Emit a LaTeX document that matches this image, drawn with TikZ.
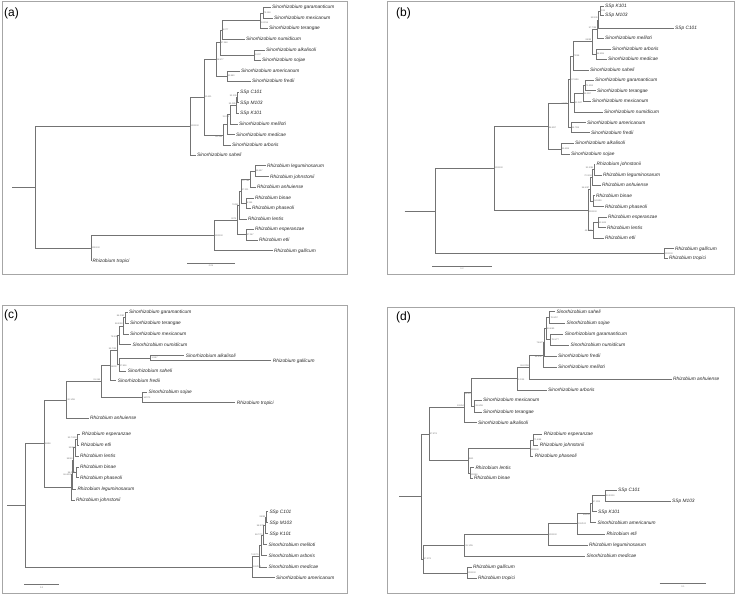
\documentclass[tikz,border=0pt]{standalone}
\usepackage{fontspec}
\setmainfont{Liberation Sans}
\usetikzlibrary{calc}

\begin{document}
\begin{tikzpicture}[x=1pt,y=-1pt,
    sp/.style={anchor=west,inner sep=1.5pt,text height=3.5pt,text depth=0.9pt,
      font=\fontsize{4.8}{5}\selectfont\itshape,text=black!85},
    sup/.style={inner sep=0.6pt,font=\fontsize{2.2}{2.4}\selectfont,text=black!55},
    tree/.style={every edge/.style={draw=black!55,line width=0.45pt,to path={|- (\tikztotarget)}}},
    frame/.style={draw=black!35,line width=0.7pt},
    tag/.style={anchor=west,inner sep=0pt,font=\fontsize{12}{12}\selectfont}]

\fill[white] (0,0) rectangle (735,594);
\useasboundingbox (0,0) rectangle (735,594);

% (a)
\draw[frame] (2,1) rectangle (347,274);
\node[tag] (atag) at (4,13) {(a)};

\node[sp] (agar) at (270.5,7.5) {Sinorhizobium garamanticum};
\node[sp] (amex) at (272.5,18) {Sinorhizobium mexicanum};
\node[sp] (ater) at (267.5,28.7) {Sinorhizobium terangae};
\node[sp] (anum) at (244.5,39.2) {Sinorhizobium numidicum};
\node[sp] (aalk) at (264.5,49.8) {Sinorhizobium alkalisoli};
\node[sp] (asoj) at (260.5,60.3) {Sinorhizobium sojae};
\node[sp] (aame) at (239.5,70.8) {Sinorhizobium americanum};
\node[sp] (afre) at (250.5,81.3) {Sinorhizobium fredii};
\node[sp] (ac101) at (238.5,92) {SSp C101};
\node[sp] (am103) at (238.5,102.7) {SSp M103};
\node[sp] (ak101) at (238.5,113.3) {SSp K101};
\node[sp] (amel) at (237.5,124) {Sinorhizobium meliloti};
\node[sp] (amed) at (234.5,134.7) {Sinorhizobium medicae};
\node[sp] (aarb) at (230.5,145.3) {Sinorhizobium arboris};
\node[sp] (asah) at (195.5,155.3) {Sinorhizobium saheli};
\node[sp] (aleg) at (265.5,165.7) {Rhizobium leguminosarum};
\node[sp] (ajoh) at (268.5,176.7) {Rhizobium johnstonii};
\node[sp] (aanh) at (255.5,187.3) {Rhizobium anhuiense};
\node[sp] (abin) at (253.5,198) {Rhizobium binae};
\node[sp] (apha) at (250.5,208.3) {Rhizobium phaseoli};
\node[sp] (alen) at (246.5,219) {Rhizobium lentis};
\node[sp] (aesp) at (253.5,229.3) {Rhizobium esperanzae};
\node[sp] (aetl) at (257.5,240) {Rhizobium etli};
\node[sp] (agal) at (272.5,250.7) {Rhizobium gallicum};
\node[sp] (atro) at (91,261) {Rhizobium tropici};

\coordinate[label={[sup]right:75.198}] (aGM) at (263,12.8);
\coordinate[label={[sup]below right:1.00/16}] (aGMT) at (260,20.7);
\coordinate[label={[sup]right:8.077}] (aD) at (222,30);
\coordinate[label={[sup]right:1.0/47}] (aAS) at (254,55);
\coordinate[label={[sup]right:97.348}] (aC) at (220,42.5);
\coordinate[label={[sup]right:92.880}] (aAF) at (227,76);
\coordinate[label={[sup]right:18.577}] (aA) at (216,59.3);
\coordinate[label={[sup]above left:92.109}] (aCM) at (237.5,97.3);
\coordinate[label={[sup]above left:95.085}] (aCMK) at (236.5,105.3);
\coordinate[label={[sup]below left:11.033}] (aCMKm) at (230,114.7);
\coordinate (aB1) at (227,124.7);
\coordinate[label={[sup]below left:99.335}] (aB) at (223,135);
\coordinate[label={[sup]right:10.431}] (aX) at (204,97.2);
\coordinate[label={[sup]right:100/100}] (aSino) at (190,126.2);
\coordinate[label={[sup]right:99.697}] (aLJ) at (255,171.2);
\coordinate[label={[sup]below left:97.784}] (aLJA) at (250,179.3);
\coordinate[label={[sup]right:8.195}] (aBP) at (246,203.2);
\coordinate[label={[sup]above right:37.201}] (aR3) at (241,191.3);
\coordinate[label={[sup]left:72453}] (aR2) at (239,205.2);
\coordinate[label={[sup]right:97.267}] (aEE) at (246,234.7);
\coordinate[label={[sup]above left:9079}] (aR1) at (237,220);
\coordinate[label={[sup]right:100/100}] (aR) at (214,235.4);
\coordinate[label={[sup]right:100/100}] (aRt) at (91,248.2);
\coordinate (aroot) at (35.5,187.2);
\coordinate (astem) at (12,187.2);

\path[tree]
  (aGM) edge (agar) edge (amex)
  (aGMT) edge (aGM) edge (ater)
  (aD) edge (aGMT) edge (anum)
  (aAS) edge (aalk) edge (asoj)
  (aC) edge (aD) edge (aAS)
  (aAF) edge (aame) edge (afre)
  (aA) edge (aC) edge (aAF)
  (aCM) edge (ac101) edge (am103)
  (aCMK) edge (aCM) edge (ak101)
  (aCMKm) edge (aCMK) edge (amel)
  (aB1) edge (aCMKm) edge (amed)
  (aB) edge (aB1) edge (aarb)
  (aX) edge (aA) edge (aB)
  (aSino) edge (aX) edge (asah)
  (aLJ) edge (aleg) edge (ajoh)
  (aLJA) edge (aLJ) edge (aanh)
  (aBP) edge (abin) edge (apha)
  (aR3) edge (aLJA) edge (aBP)
  (aR2) edge (aR3) edge (alen)
  (aEE) edge (aesp) edge (aetl)
  (aR1) edge (aR2) edge (aEE)
  (aR) edge (aR1) edge (agal)
  (aRt) edge (aR) edge (atro)
  (aroot) edge (aSino) edge (aRt)
  (astem) edge (aroot);

\coordinate (asb1) at (187,263);
\coordinate (asb2) at (235,263);
\path[tree] (asb1) edge (asb2);
\node[sup,below=1.5pt] (asbl) at ($(asb1)!0.5!(asb2)$) {0.05};

% (b)
\draw[frame] (387,1) rectangle (734,274);
\node[tag] (btag) at (396,13) {(b)};

\node[sp] (bk101) at (603.5,6.7) {SSp K101};
\node[sp] (bm103) at (603.5,15.7) {SSp M103};
\node[sp] (bc101) at (673.5,28.3) {SSp C101};
\node[sp] (bmel) at (603.5,38.3) {Sinorhizobium meliloti};
\node[sp] (barb) at (610.5,49) {Sinorhizobium arboris};
\node[sp] (bmed) at (606.5,59.3) {Sinorhizobium medicae};
\node[sp] (bsah) at (588.5,70.3) {Sinorhizobium saheli};
\node[sp] (bgar) at (593.5,80.3) {Sinorhizobium garamanticum};
\node[sp] (bter) at (595.5,90.7) {Sinorhizobium terangae};
\node[sp] (bmex) at (590.5,101) {Sinorhizobium mexicanum};
\node[sp] (bnum) at (602.5,112) {Sinorhizobium numidicum};
\node[sp] (bame) at (585.5,122.7) {Sinorhizobium americanum};
\node[sp] (bfre) at (589.5,132.7) {Sinorhizobium fredii};
\node[sp] (balk) at (573.5,143.3) {Sinorhizobium alkalisoli};
\node[sp] (bsoj) at (569.5,154.3) {Sinorhizobium sojae};
\node[sp] (bjoh) at (595,164.3) {Rhizobium johnstonii};
\node[sp] (bleg) at (601.5,175) {Rhizobium leguminosarum};
\node[sp] (banh) at (600.5,185.3) {Rhizobium anhuiense};
\node[sp] (bbin) at (594.5,195.7) {Rhizobium binae};
\node[sp] (bpha) at (603.5,206.7) {Rhizobium phaseoli};
\node[sp] (besp) at (606.5,217.3) {Rhizobium esperanzae};
\node[sp] (blen) at (605.5,227.7) {Rhizobium lentis};
\node[sp] (betl) at (603.5,238) {Rhizobium etli};
\node[sp] (bgal) at (673.5,248.7) {Rhizobium gallicum};
\node[sp] (btro) at (667.5,258.3) {Rhizobium tropici};

\coordinate[label={[sup]right:0.95}] (bKM) at (600,11.2);
\coordinate[label={[sup]above left:92/100}] (bKMC) at (598.5,19.8);
\coordinate[label={[sup]above left:97.7/98}] (bSM) at (597,29);
\coordinate[label={[sup]right:94.9/95}] (bAM) at (596,54.2);
\coordinate[label={[sup]above left:99/99}] (bS4) at (592,41.6);
\coordinate[label={[sup]right:72/98}] (bS3) at (573,56);
\coordinate[label={[sup]right:71.4/93}] (bGT) at (585,85.5);
\coordinate[label={[sup]right:95.2/97}] (bGTM) at (583,93.3);
\coordinate[label={[sup]right:41.2/47}] (bS5) at (574,102.6);
\coordinate[label={[sup]right:97.9/99}] (bS2) at (570.5,79.3);
\coordinate[label={[sup]right:96.7/99}] (bAF) at (571,127.7);
\coordinate[label={[sup]left:14/97}] (bS1) at (568,103.5);
\coordinate[label={[sup]right:95.6/99}] (bAS) at (561,148.8);
\coordinate[label={[sup]below right:96.9/97}] (bSino) at (548,126.2);
\coordinate[label={[sup]above left:91.3/95}] (bJL) at (594,169.7);
\coordinate[label={[sup]above left:70.3/94}] (bJLA) at (592.5,177.5);
\coordinate[label={[sup]right:94.9/99}] (bBP) at (593.5,201.2);
\coordinate[label={[sup]above left:94.5/97}] (bR1) at (590,189.4);
\coordinate[label={[sup]right:51.5/44}] (bEL) at (598,222.5);
\coordinate[label={[sup]left:44.2/55}] (bELE) at (593,230.3);
\coordinate[label={[sup]below right:100/100}] (bR) at (588,209.9);
\coordinate[label={[sup]right:100/100}] (bSR) at (494,168);
\coordinate[label={[sup]right:100/100}] (bGTr) at (664,253.5);
\coordinate (broot) at (435.7,210.8);
\coordinate (bstem) at (404.7,210.8);

\path[tree]
  (bKM) edge (bk101) edge (bm103)
  (bKMC) edge (bKM) edge (bc101)
  (bSM) edge (bKMC) edge (bmel)
  (bAM) edge (barb) edge (bmed)
  (bS4) edge (bSM) edge (bAM)
  (bS3) edge (bS4) edge (bsah)
  (bGT) edge (bgar) edge (bter)
  (bGTM) edge (bGT) edge (bmex)
  (bS5) edge (bGTM) edge (bnum)
  (bS2) edge (bS3) edge (bS5)
  (bAF) edge (bame) edge (bfre)
  (bS1) edge (bS2) edge (bAF)
  (bAS) edge (balk) edge (bsoj)
  (bSino) edge (bS1) edge (bAS)
  (bJL) edge (bjoh) edge (bleg)
  (bJLA) edge (bJL) edge (banh)
  (bBP) edge (bbin) edge (bpha)
  (bR1) edge (bJLA) edge (bBP)
  (bEL) edge (besp) edge (blen)
  (bELE) edge (bEL) edge (betl)
  (bR) edge (bR1) edge (bELE)
  (bSR) edge (bSino) edge (bR)
  (bGTr) edge (bgal) edge (btro)
  (broot) edge (bSR) edge (bGTr)
  (bstem) edge (broot);

\coordinate (bsb1) at (432,266);
\coordinate (bsb2) at (492,266);
\path[tree] (bsb1) edge (bsb2);
\node[sup,below=1.5pt] (bsbl) at ($(bsb1)!0.5!(bsb2)$) {0.2};

% (c)
\draw[frame] (2,305) rectangle (347,593);
\node[tag] (ctag) at (4,315) {(c)};

\node[sp] (cgar) at (127.5,312.3) {Sinorhizobium garamanticum};
\node[sp] (cter) at (128.5,323) {Sinorhizobium terangae};
\node[sp] (cmex) at (128.5,334) {Sinorhizobium mexicanum};
\node[sp] (cnum) at (130.8,344.7) {Sinorhizobium numidicum};
\node[sp] (calk) at (184.2,355.7) {Sinorhizobium alkalisoli};
\node[sp] (cgal) at (271.2,360.7) {Rhizobium gallicum};
\node[sp] (csah) at (126.2,371) {Sinorhizobium saheli};
\node[sp] (cfre) at (116.2,380.7) {Sinorhizobium fredii};
\node[sp] (csoj) at (146.8,392.3) {Sinorhizobium sojae};
\node[sp] (ctro) at (235.2,402.7) {Rhizobium tropici};
\node[sp] (canh) at (88.5,418.3) {Rhizobium anhuiense};
\node[sp] (cesp) at (80.2,434) {Rhizobium esperanzae};
\node[sp] (cetl) at (79.2,444.8) {Rhizobium etli};
\node[sp] (clen) at (78.5,456) {Rhizobium lentis};
\node[sp] (cbin) at (78.5,467) {Rhizobium binae};
\node[sp] (cpha) at (78.5,477.7) {Rhizobium phaseoli};
\node[sp] (cleg) at (75.8,489.3) {Rhizobium leguminosarum};
\node[sp] (cjoh) at (74.5,500.3) {Rhizobium johnstonii};
\node[sp] (cc101) at (267.8,511.7) {SSp C101};
\node[sp] (cm103) at (267.8,522.7) {SSp M103};
\node[sp] (ck101) at (267.8,533.7) {SSp K101};
\node[sp] (cmel) at (266.8,544.7) {Sinorhizobium meliloti};
\node[sp] (carb) at (266.8,555.7) {Sinorhizobium arboris};
\node[sp] (cmed) at (266.8,567) {Sinorhizobium medicae};
\node[sp] (came) at (274.5,577.7) {Sinorhizobium americanum};

\coordinate[label={[sup]above left:84.2/90}] (cGT) at (125,317.7);
\coordinate[label={[sup]above left:98.5/98}] (cGTM) at (123.3,325.8);
\coordinate[label={[sup]below left:79.5/89}] (cGTMN) at (119,335.3);
\coordinate[label={[sup]right:1.0/47}] (cAG) at (150.7,358.2);
\coordinate[label={[sup]below right:27.836}] (cT2) at (119,364.6);
\coordinate[label={[sup]above left:95.7/99}] (cT1111) at (117,350);
\coordinate[label={[sup]below right:18/027}] (cT111) at (110,365.3);
\coordinate[label={[sup]right:14/073}] (cST) at (142.7,397.5);
\coordinate[label={[sup]above left:31.244}] (cT11) at (101,381.4);
\coordinate[label={[sup]right:92.1/98}] (cT1) at (66.7,399.9);
\coordinate[label={[sup]above left:93.7/100}] (cEE) at (77.3,439.4);
\coordinate[label={[sup]left:99/99}] (cR3) at (75.3,447.7);
\coordinate[label={[sup]left:94.2/97}] (cBP) at (76,472.3);
\coordinate[label={[sup]above left:99/99}] (cR2) at (73.3,460);
\coordinate[label={[sup]left:96.4/100}] (cR1) at (72.7,474.7);
\coordinate (cR) at (71.7,487.5);
\coordinate[label={[sup]right:98/98}] (cT) at (44.3,443.7);
\coordinate[label={[sup]left:99/99}] (cCM) at (266,517.2);
\coordinate[label={[sup]left:98.9/79}] (cCMK) at (265,525.5);
\coordinate[label={[sup]left:98.7/75}] (cS111) at (263.3,535.1);
\coordinate (cS11) at (261.7,545.4);
\coordinate[label={[sup]above left:74.3/75}] (cS1) at (259.3,556.2);
\coordinate[label={[sup]right:100/100}] (cS) at (252.3,567);
\coordinate (croot) at (25,505.4);
\coordinate (cstem) at (7.3,505.4);

\path[tree]
  (cGT) edge (cgar) edge (cter)
  (cGTM) edge (cGT) edge (cmex)
  (cGTMN) edge (cGTM) edge (cnum)
  (cAG) edge (calk) edge (cgal)
  (cT2) edge (cAG) edge (csah)
  (cT1111) edge (cGTMN) edge (cT2)
  (cT111) edge (cT1111) edge (cfre)
  (cST) edge (csoj) edge (ctro)
  (cT11) edge (cT111) edge (cST)
  (cT1) edge (cT11) edge (canh)
  (cEE) edge (cesp) edge (cetl)
  (cR3) edge (cEE) edge (clen)
  (cBP) edge (cbin) edge (cpha)
  (cR2) edge (cR3) edge (cBP)
  (cR1) edge (cR2) edge (cleg)
  (cR) edge (cR1) edge (cjoh)
  (cT) edge (cT1) edge (cR)
  (cCM) edge (cc101) edge (cm103)
  (cCMK) edge (cCM) edge (ck101)
  (cS111) edge (cCMK) edge (cmel)
  (cS11) edge (cS111) edge (carb)
  (cS1) edge (cS11) edge (cmed)
  (cS) edge (cS1) edge (came)
  (croot) edge (cT) edge (cS)
  (cstem) edge (croot);

\coordinate (csb1) at (24,584.3);
\coordinate (csb2) at (59.3,584.3);
\path[tree] (csb1) edge (csb2);
\node[sup,below=1.5pt] (csbl) at ($(csb1)!0.5!(csb2)$) {0.2};

% (d)
\draw[frame] (387,307) rectangle (734,593);
\node[tag] (dtag) at (396,317) {(d)};

\node[sp] (dsah) at (554.8,311.7) {Sinorhizobium saheli};
\node[sp] (dsoj) at (564.8,323.3) {Sinorhizobium sojae};
\node[sp] (dgar) at (563.2,334.3) {Sinorhizobium garamanticum};
\node[sp] (dnum) at (568.8,345) {Sinorhizobium numidicum};
\node[sp] (dfre) at (556.5,356) {Sinorhizobium fredii};
\node[sp] (dmel) at (556.5,367.3) {Sinorhizobium meliloti};
\node[sp] (danh) at (671.5,379.3) {Rhizobium anhuiense};
\node[sp] (darb) at (546.5,390) {Sinorhizobium arboris};
\node[sp] (dmex) at (481.5,400) {Sinorhizobium mexicanum};
\node[sp] (dter) at (481.5,412) {Sinorhizobium terangae};
\node[sp] (dalk) at (476.5,422.7) {Sinorhizobium alkalisoli};
\node[sp] (desp) at (542.2,434.3) {Rhizobium esperanzae};
\node[sp] (djoh) at (538.2,445.3) {Rhizobium johnstonii};
\node[sp] (dpha) at (533.2,456) {Rhizobium phaseoli};
\node[sp] (dlen) at (473.8,467.7) {Rhizobium lentis};
\node[sp] (dbin) at (472.5,478.3) {Rhizobium binae};
\node[sp] (dc101) at (616.5,490) {SSp C101};
\node[sp] (dm103) at (670.5,501) {SSp M103};
\node[sp] (dk101) at (596.5,511.7) {SSp K101};
\node[sp] (dame) at (595.8,522.7) {Sinorhizobium americanum};
\node[sp] (detl) at (604.8,534) {Rhizobium etli};
\node[sp] (dleg) at (587.5,545.3) {Rhizobium leguminosarum};
\node[sp] (dmed) at (584.8,556.3) {Sinorhizobium medicae};
\node[sp] (dgal) at (471.5,567.3) {Rhizobium gallicum};
\node[sp] (dtro) at (476.5,578.3) {Rhizobium tropici};

\coordinate[label={[sup]right:78.8/97}] (dSS) at (549.7,317.5);
\coordinate[label={[sup]right:78.9/77}] (dGN) at (550.7,339.7);
\coordinate[label={[sup]right:89.6/80}] (dD7) at (546.3,328.6);
\coordinate[label={[sup]left:76.8/71}] (dD6) at (544.7,342.3);
\coordinate[label={[sup]below left:99.9/97}] (dD5) at (543,354.8);
\coordinate[label={[sup]above left:99.97/99}] (dD4x) at (529.7,367);
\coordinate[label={[sup]below right:1.0/35}] (dD3x) at (517.3,378.5);
\coordinate[label={[sup]right:93.6/98}] (dMT) at (474.7,406);
\coordinate[label={[sup]below left:93/99}] (dD111) at (471.3,392.3);
\coordinate[label={[sup]above left:100/84}] (dD11) at (464.7,407.5);
\coordinate[label={[sup]right:71.6/88}] (dEJ) at (533.3,439.8);
\coordinate[label={[sup]below right:100/100}] (dEJP) at (530,447.9);
\coordinate[label={[sup]below right:100/88}] (dLB) at (470,473);
\coordinate[label={[sup]above right:98/1}] (dD12) at (468.3,460.5);
\coordinate[label={[sup]right:97.97/1}] (dD1) at (429,434);
\coordinate[label={[sup]right:99.9/100}] (dCM) at (605.3,495.5);
\coordinate[label={[sup]above right:97.1/99}] (dCMK) at (592,503.6);
\coordinate[label={[sup]below left:99/100}] (dD3) at (590.7,513.2);
\coordinate[label={[sup]right:100/100}] (dD2111) at (577.3,523.6);
\coordinate[label={[sup]right:100/100}] (dD211) at (548,534.5);
\coordinate[label={[sup]right:91.1/95}] (dD21) at (464.7,545.4);
\coordinate[label={[sup]right:100/100}] (dGTr) at (467,572.8);
\coordinate[label={[sup]right:97.3/71}] (dD2) at (423,559.1);
\coordinate (droot) at (421.3,496.6);
\coordinate (dstem) at (399,496.6);

\path[tree]
  (dSS) edge (dsah) edge (dsoj)
  (dGN) edge (dgar) edge (dnum)
  (dD7) edge (dSS) edge (dGN)
  (dD6) edge (dD7) edge (dfre)
  (dD5) edge (dD6) edge (dmel)
  (dD4x) edge (dD5) edge (danh)
  (dD3x) edge (dD4x) edge (darb)
  (dMT) edge (dmex) edge (dter)
  (dD111) edge (dD3x) edge (dMT)
  (dD11) edge (dD111) edge (dalk)
  (dEJ) edge (desp) edge (djoh)
  (dEJP) edge (dEJ) edge (dpha)
  (dLB) edge (dlen) edge (dbin)
  (dD12) edge (dEJP) edge (dLB)
  (dD1) edge (dD11) edge (dD12)
  (dCM) edge (dc101) edge (dm103)
  (dCMK) edge (dCM) edge (dk101)
  (dD3) edge (dCMK) edge (dame)
  (dD2111) edge (dD3) edge (detl)
  (dD211) edge (dD2111) edge (dleg)
  (dD21) edge (dD211) edge (dmed)
  (dGTr) edge (dgal) edge (dtro)
  (dD2) edge (dD21) edge (dGTr)
  (droot) edge (dD1) edge (dD2)
  (dstem) edge (droot);

\coordinate (dsb1) at (659.7,583.3);
\coordinate (dsb2) at (706.3,583.3);
\path[tree] (dsb1) edge (dsb2);
\node[sup,below=1.5pt] (dsbl) at ($(dsb1)!0.5!(dsb2)$) {0.1};
\end{tikzpicture}
\end{document}
